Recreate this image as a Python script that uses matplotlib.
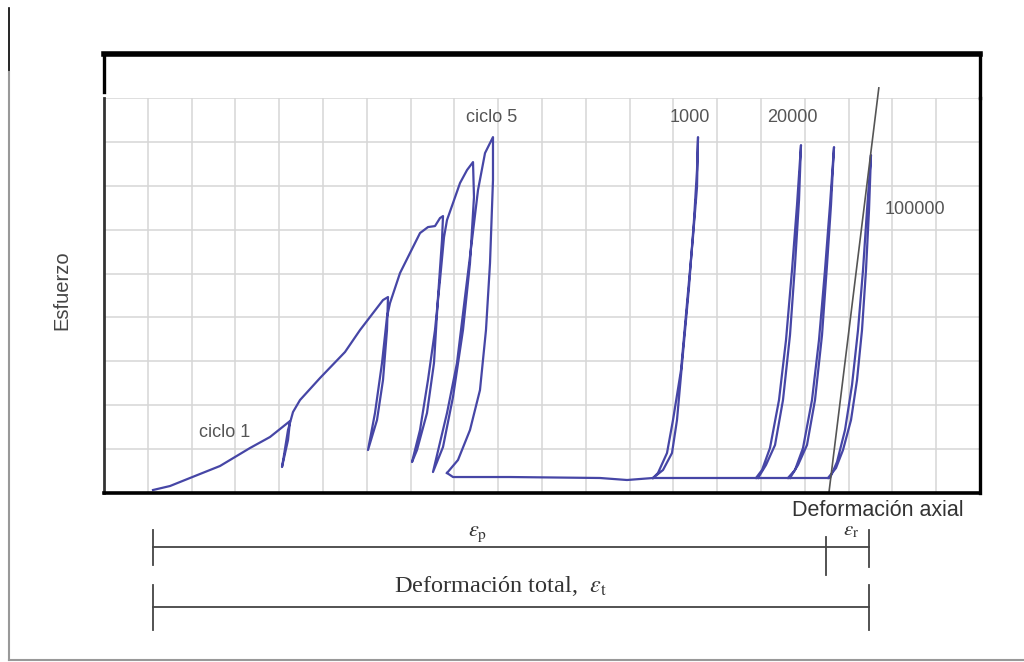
import matplotlib
matplotlib.use('Agg')
from matplotlib import pyplot as plt
from matplotlib.lines import Line2D

plt.rcParams['font.family'] = ['Liberation Sans', 'DejaVu Sans']
plt.rcParams['mathtext.fontset'] = 'stix'

# grid units: 20 columns x 9 rows
# first cycles (1..5) with the load / unload / reload branches, one continuous path
ciclos_x = [1.119, 1.507, 1.963, 2.648, 3.333, 3.790, 4.247,
            4.201, 4.064,
            4.110, 4.201, 4.315, 4.475, 4.932, 5.502, 5.845, 6.142, 6.370, 6.484,
            6.461, 6.370, 6.233, 6.027,
            6.187, 6.347, 6.461, 6.530, 6.758, 6.986, 7.215, 7.397, 7.557, 7.671, 7.740,
            7.717, 7.626, 7.534, 7.374, 7.146, 7.032,
            7.215, 7.397, 7.557, 7.671, 7.763, 7.831, 7.968, 8.128, 8.288, 8.425,
            8.447, 8.356, 8.196, 7.968, 7.740, 7.511,
            7.831, 8.059, 8.242, 8.402, 8.539, 8.699, 8.881,
            8.881, 8.813, 8.721, 8.584, 8.356, 8.082, 7.831]
ciclos_y = [0.068, 0.159, 0.342, 0.615, 1.025, 1.276, 1.640,
            1.207, 0.592,
            0.866, 1.435, 1.845, 2.118, 2.620, 3.212, 3.713, 4.100, 4.396, 4.465,
            3.713, 2.574, 1.663, 0.979,
            1.822, 2.961, 4.009, 4.328, 5.011, 5.467, 5.923, 6.059, 6.082, 6.264, 6.310,
            5.763, 4.465, 2.961, 1.822, 0.979, 0.706,
            1.435, 2.574, 3.713, 4.852, 5.831, 6.219, 6.606, 7.062, 7.358, 7.540,
            6.743, 5.239, 3.713, 2.187, 1.048, 0.478,
            1.822, 2.961, 4.465, 5.763, 6.902, 7.745, 8.109,
            7.130, 5.239, 3.713, 2.346, 1.435, 0.752, 0.456]

# flat branch after cycle 5
base_x = [7.831, 7.968, 9.269, 11.324, 11.941, 12.534, 16.530]
base_y = [0.456, 0.364, 0.364, 0.342, 0.296, 0.342, 0.342]

# later loops (reload up, unload down)
loop_1000_x = [12.534, 12.763, 12.968, 13.082, 13.219, 13.356, 13.470, 13.539, 13.562,
               13.539, 13.447, 13.311, 13.174, 12.991, 12.854, 12.648, 12.534]
loop_1000_y = [0.342, 0.524, 0.911, 1.663, 3.189, 4.692, 6.219, 7.358, 8.109,
               6.970, 5.831, 4.328, 2.802, 1.663, 0.911, 0.456, 0.342]

loop_20000_x = [14.932, 15.114, 15.320, 15.502, 15.662, 15.776, 15.868, 15.913,
                15.822, 15.708, 15.571, 15.411, 15.205, 15.023, 14.886]
loop_20000_y = [0.342, 0.638, 1.093, 2.118, 3.599, 5.194, 6.674, 7.927,
                6.560, 5.080, 3.485, 2.118, 1.025, 0.524, 0.342]

loop_50000_x = [15.662, 15.845, 16.050, 16.233, 16.393, 16.507, 16.598, 16.667,
                16.575, 16.461, 16.324, 16.164, 15.959, 15.776, 15.616]
loop_50000_y = [0.342, 0.638, 1.093, 2.118, 3.599, 5.194, 6.560, 7.882,
                6.560, 5.080, 3.485, 2.118, 1.025, 0.524, 0.342]

loop_100000_x = [16.530, 16.712, 16.872, 17.055, 17.192, 17.306, 17.397, 17.466, 17.511,
                 17.420, 17.329, 17.215, 17.078, 16.918, 16.735, 16.575]
loop_100000_y = [0.342, 0.569, 0.979, 1.663, 2.574, 3.713, 5.080, 6.446, 7.699,
                 6.446, 5.080, 3.713, 2.460, 1.435, 0.706, 0.342]

# elastic (resilient) line
elast_x = [16.55, 17.69]
elast_y = [0.0, 9.23]

# strain dimension marks
eps_ini = 1.12      # start of eps_p
eps_mid = 16.48     # start of eps_r
eps_fin = 17.47     # end of total strain

etiquetas = [('ciclo 1', 2.76, 1.37), ('ciclo 5', 8.86, 8.56), ('1000', 13.38, 8.56),
             ('20000', 15.71, 8.56), ('100000', 18.52, 6.45)]

fig = plt.figure(figsize=(10.24, 6.62), dpi=100)
ax = fig.add_axes([104 / 1024, 1 - 493 / 662, 876 / 1024, 395 / 662])
ax.set_xlim(0, 20)
ax.set_ylim(0, 9)
ax.set_xticks(range(21))
ax.set_yticks(range(10))
ax.tick_params(length=0, labelbottom=False, labelleft=False)
ax.grid(True, color='#d6d6d6', lw=1.1)
ax.set_axisbelow(True)
ax.spines['top'].set_visible(False)
ax.spines['left'].set_color('#333333')
ax.spines['left'].set_linewidth(2)
ax.spines['right'].set_color('black')
ax.spines['right'].set_linewidth(2.4)
ax.spines['bottom'].set_color('black')
ax.spines['bottom'].set_linewidth(2.6)

azul = '#4646a6'
ax.plot(ciclos_x, ciclos_y, color=azul, lw=1.6)
ax.plot(base_x, base_y, color=azul, lw=1.6)
for lx, ly in [(loop_1000_x, loop_1000_y), (loop_20000_x, loop_20000_y),
               (loop_50000_x, loop_50000_y), (loop_100000_x, loop_100000_y)]:
    ax.plot(lx, ly, color=azul, lw=1.6)
ax.plot(elast_x, elast_y, color='#555555', lw=1.2, clip_on=False)

# black bracket on top
ax.plot([0, 1], [1.111, 1.111], color='black', lw=4, transform=ax.transAxes,
        clip_on=False, solid_capstyle='projecting')
ax.plot([0, 0], [1.015, 1.111], color='black', lw=2.4, transform=ax.transAxes, clip_on=False)
ax.plot([1, 1], [1.0, 1.111], color='black', lw=2.4, transform=ax.transAxes, clip_on=False)

for txt, tx, ty in etiquetas:
    ax.text(tx, ty, txt, color='#555555', fontsize=13, ha='center', va='center')

ax.text(-0.96, 4.62, 'Esfuerzo', rotation=90, color='#444444', fontsize=14.5,
        ha='center', va='center', clip_on=False)
ax.text(17.67, -0.39, 'Deformación axial', color='#333333', fontsize=15.5,
        ha='center', va='center', clip_on=False)

# dimension lines under the chart
gris = '#444444'
ax.plot([eps_ini, eps_fin], [-1.23, -1.23], color=gris, lw=1.3, clip_on=False)
ax.plot([eps_ini, eps_ini], [-0.84, -1.64], color=gris, lw=1.3, clip_on=False)
ax.plot([eps_mid, eps_mid], [-1.00, -1.87], color=gris, lw=1.3, clip_on=False)
ax.plot([eps_fin, eps_fin], [-0.84, -1.69], color=gris, lw=1.3, clip_on=False)
ax.plot([eps_ini, eps_fin], [-2.60, -2.60], color=gris, lw=1.3, clip_on=False)
ax.plot([eps_ini, eps_ini], [-2.10, -3.12], color=gris, lw=1.3, clip_on=False)
ax.plot([eps_fin, eps_fin], [-2.10, -3.12], color=gris, lw=1.3, clip_on=False)

ax.text(8.54, -0.93, r'$\varepsilon_\mathrm{p}$', color='#333333', fontsize=16,
        ha='center', va='center', clip_on=False)
ax.text(17.05, -0.86, r'$\varepsilon_\mathrm{r}$', color='#333333', fontsize=15,
        ha='center', va='center', clip_on=False)
ax.text(9.04, -2.12, r'Deformación total,  $\varepsilon_\mathrm{t}$', color='#333333',
        fontsize=17.5, family=['Liberation Serif', 'DejaVu Serif'],
        ha='center', va='center', clip_on=False)

# scan frame
fig.add_artist(Line2D([9 / 1024, 9 / 1024], [1 - 8 / 662, 1 - 72 / 662], color='black', lw=1.2))
fig.add_artist(Line2D([9 / 1024, 9 / 1024], [1 - 72 / 662, 1 - 660 / 662], color='#999999', lw=1.5))
fig.add_artist(Line2D([9 / 1024, 1], [1 - 660 / 662, 1 - 660 / 662], color='#999999', lw=1.5))

fig.savefig('out.png', dpi=100)
